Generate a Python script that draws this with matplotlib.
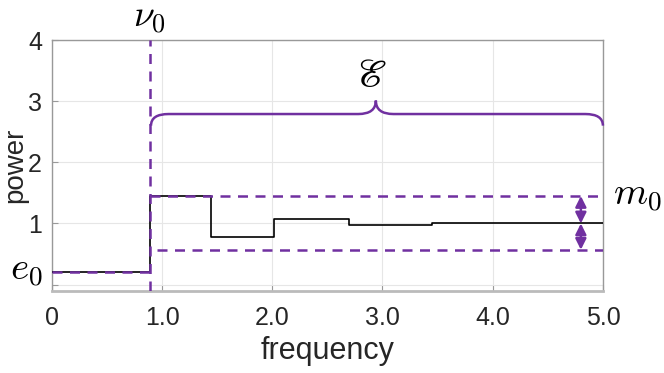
import matplotlib
matplotlib.use('Agg')
import matplotlib.pyplot as plt
from matplotlib.path import Path
from matplotlib.patches import PathPatch

plt.rcParams['font.family'] = ['Liberation Sans', 'DejaVu Sans']
plt.rcParams['mathtext.fontset'] = 'cm'

PURPLE = '#7030A0'

# step function
step_x = [0.0, 0.89, 1.445, 2.015, 2.70, 3.45, 4.21, 5.0]
step_y = [0.2, 1.45, 0.78, 1.07, 0.97, 1.015, 1.0, 1.0]

nu0 = 0.89
e0 = 0.2
upper = 1.45
mid = 1.0
lower = 0.57
lower_start = 0.95
arrow_x = 4.80

x_ticks = [0, 1, 2, 3, 4, 5]
x_labels = ['0', '1.0', '2.0', '3.0', '4.0', '5.0']
y_ticks = [0, 1, 2, 3, 4]
y_labels = ['', '1', '2', '3', '4']

# brace: left end, flat level, tip, right end
brace_x0, brace_x1, brace_tip = 0.90, 5.0, 2.94
brace_end_y, brace_y, brace_top = 2.60, 2.79, 3.01

fig = plt.figure(figsize=(6.64, 3.73), dpi=100)
ax = fig.add_axes([0.078, 0.2206, 0.830, 0.672])

# black step curve
xs, ys = [], []
for i in range(len(step_y) - 1):
    xs += [step_x[i], step_x[i + 1]]
    ys += [step_y[i], step_y[i]]
ax.plot(xs, ys, color='black', lw=1.2, zorder=3)

dash = dict(color=PURPLE, lw=1.8, ls=(0, (4, 3)), zorder=4)
ax.axvline(nu0, **dash)
ax.plot([0, nu0], [e0, e0], **dash)
ax.plot([nu0, 5.0], [upper, upper], **dash)
ax.plot([lower_start, 5.0], [lower, lower], **dash)

arrow = dict(arrowstyle='<|-|>', color=PURPLE, lw=1.8, mutation_scale=16,
             shrinkA=0, shrinkB=0)
ax.annotate('', xy=(arrow_x, upper), xytext=(arrow_x, mid), arrowprops=arrow)
ax.annotate('', xy=(arrow_x, mid), xytext=(arrow_x, lower), arrowprops=arrow)

# curly brace
r = 0.16
verts = [(brace_x0, brace_end_y), (brace_x0, brace_y), (brace_x0 + r, brace_y),
         (brace_tip - r, brace_y),
         (brace_tip, brace_y), (brace_tip, brace_top),
         (brace_tip, brace_y), (brace_tip + r, brace_y),
         (brace_x1 - r, brace_y),
         (brace_x1, brace_y), (brace_x1, brace_end_y)]
codes = [Path.MOVETO, Path.CURVE3, Path.CURVE3, Path.LINETO,
         Path.CURVE3, Path.CURVE3, Path.CURVE3, Path.CURVE3,
         Path.LINETO, Path.CURVE3, Path.CURVE3]
ax.add_patch(PathPatch(Path(verts, codes), fill=False, edgecolor=PURPLE,
                       lw=1.8, zorder=4, clip_on=False))

ax.text(2.90, 3.12, r'$\mathscr{E}$', fontsize=28, ha='center', va='bottom')
ax.text(nu0 - 0.01, 4.06, r'$\nu_0$', fontsize=27, ha='center', va='bottom')
ax.text(-0.08, 0.22, r'$e_0$', fontsize=28, ha='right', va='center')
ax.text(5.09, 1.45, r'$m_0$', fontsize=28, ha='left', va='center')

ax.set_xlim(0, 5)
ax.set_ylim(-0.1, 4)
ax.set_xticks(x_ticks)
ax.set_xticklabels(x_labels)
ax.set_yticks(y_ticks)
ax.set_yticklabels(y_labels)
ax.tick_params(direction='in', length=4, labelsize=18, colors='#999999',
               labelcolor='#262626')
ax.tick_params(axis='x', pad=11)
ax.tick_params(axis='y', pad=7)
ax.grid(True, color='#e6e6e6', lw=0.8)
ax.set_axisbelow(True)
for s in ax.spines.values():
    s.set_color('#999999')
    s.set_linewidth(1.0)
ax.spines['bottom'].set_color('#bbbbbb')
ax.spines['bottom'].set_linewidth(2.0)

ax.set_xlabel('frequency', fontsize=22, color='#262626', labelpad=4)
ax.set_ylabel('power', fontsize=20, color='#262626')
ax.yaxis.set_label_coords(-0.042, 0.5)

fig.savefig('out.png', dpi=100)
